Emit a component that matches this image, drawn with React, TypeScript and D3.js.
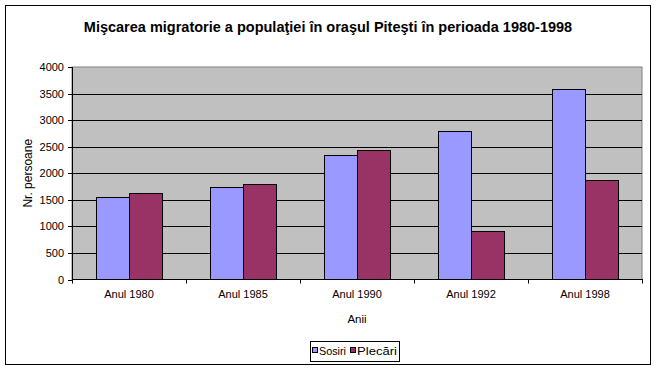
import React from 'react';
import * as d3 from 'd3';

const categories = ['Anul 1980', 'Anul 1985', 'Anul 1990', 'Anul 1992', 'Anul 1998'];
const sosiri = [1550, 1750, 2350, 2800, 3580];
const plecari = [1620, 1790, 2430, 920, 1880];
const seriesNames = ['Sosiri', 'Plecări'];
const seriesColors = ['#9999FF', '#993366'];
const yTicks = [0, 500, 1000, 1500, 2000, 2500, 3000, 3500, 4000];

const W = 658;
const H = 371;
const plot = { left: 72, top: 67, right: 642, bottom: 279.5 };
const font = '"Liberation Sans", Arial, sans-serif';

export default function App() {
  const x = d3.scaleBand<string>()
    .domain(categories)
    .range([plot.left, plot.right]);

  const y = d3.scaleLinear()
    .domain([0, 4000])
    .range([plot.bottom, plot.top]);

  // excel style: gap width 150%
  const barW = x.bandwidth() / 3.5;
  const series = [sosiri, plecari];

  return (
    <div style={{ position: 'absolute', left: 0, top: 0 }}>
      <svg width={W} height={H} style={{ display: 'block', fontFamily: font }}>
        <rect x={0} y={0} width={W} height={H} fill="#fff" />
        <rect x={5.5} y={5.5} width={645} height={359} fill="#fff" stroke="#000" />

        <text x={328} y={32} textAnchor="middle" fontSize={14.5} fontWeight="bold">
          Mişcarea migratorie a populaţiei în oraşul Piteşti în perioada 1980-1998
        </text>

        {/* plot area */}
        <rect x={plot.left} y={plot.top} width={plot.right - plot.left} height={plot.bottom - plot.top}
          fill="#C0C0C0" stroke="#808080" />

        {yTicks.slice(1, -1).map(t => (
          <line key={t} x1={plot.left} x2={plot.right} y1={Math.round(y(t)) + 0.5} y2={Math.round(y(t)) + 0.5}
            stroke="#000" />
        ))}

        {categories.map((c, i) =>
          series.map((s, j) => {
            const x0 = (x(c) as number) + barW * 0.75 + j * barW;
            const top = Math.round(y(s[i])) + 0.5;
            return (
              <rect key={c + j} x={Math.round(x0) + 0.5} y={top} width={Math.round(barW)}
                height={plot.bottom - top} fill={seriesColors[j]} stroke="#000" />
            );
          })
        )}

        {/* axes */}
        <line x1={plot.left + 0.5} x2={plot.left + 0.5} y1={plot.top} y2={plot.bottom} stroke="#000" />
        <line x1={plot.left} x2={plot.right + 1} y1={plot.bottom} y2={plot.bottom} stroke="#000" />

        {yTicks.map(t => (
          <g key={t}>
            <line x1={plot.left - 4} x2={plot.left} y1={Math.round(y(t)) + 0.5} y2={Math.round(y(t)) + 0.5} stroke="#000" />
            <text x={plot.left - 8} y={y(t) + 4} textAnchor="end" fontSize={11}>{t}</text>
          </g>
        ))}

        {[...categories.map(c => x(c) as number), plot.right].map((v, i) => (
          <line key={i} x1={Math.round(v) + 0.5} x2={Math.round(v) + 0.5} y1={plot.bottom} y2={plot.bottom + 4} stroke="#000" />
        ))}

        {categories.map(c => (
          <text key={c} x={(x(c) as number) + x.bandwidth() / 2} y={298} textAnchor="middle" fontSize={11}>{c}</text>
        ))}

        <text x={(plot.left + plot.right) / 2} y={323} textAnchor="middle" fontSize={11.5}>Anii</text>
        <text transform={`translate(32, ${(plot.top + plot.bottom) / 2}) rotate(-90)`} textAnchor="middle" fontSize={12}>
          Nr. persoane
        </text>

        {/* legend */}
        <rect x={310.5} y={341.5} width={89} height={20} fill="#fff" stroke="#000" />
        {seriesNames.map((n, j) => {
          const lx = j === 0 ? 312 : 350;
          return (
            <g key={n}>
              <rect x={lx + 0.5} y={347.5} width={5} height={5} fill={seriesColors[j]} stroke="#000" />
              <text x={lx + 7} y={355} fontSize={10.5} textLength={j === 0 ? 27 : 40} lengthAdjust="spacingAndGlyphs">{n}</text>
            </g>
          );
        })}
      </svg>
    </div>
  );
}
